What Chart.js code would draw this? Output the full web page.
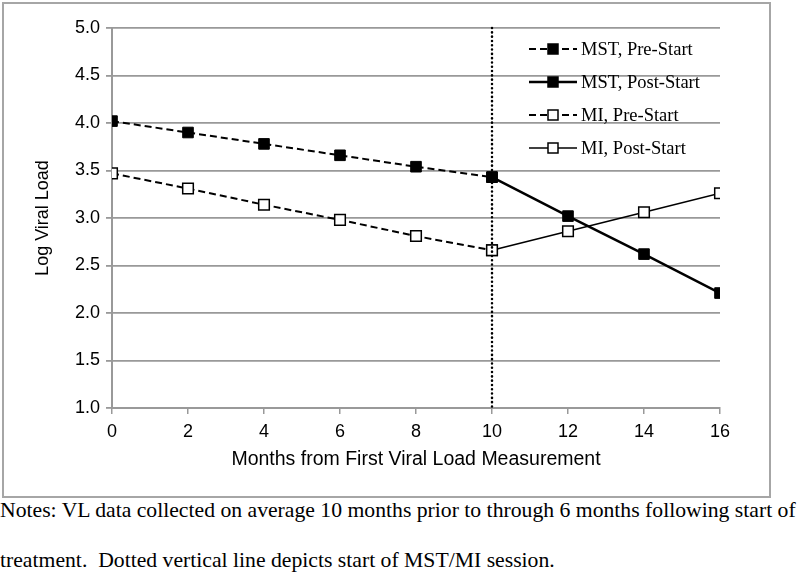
<!DOCTYPE html>
<html>
<head>
<meta charset="utf-8">
<script src="https://cdn.jsdelivr.net/npm/chart.js@4"></script>
<style>
  body { margin: 0; background: #fff; width: 800px; height: 574px; overflow: hidden; }
  #box { position: absolute; left: 2px; top: 2px; width: 765px; height: 492px; border: 2px solid #a6a6a6; }
  .note { position: absolute; left: 0; font-family: "Liberation Serif", serif; font-size: 21.7px; white-space: nowrap; color: #000; }
</style>
</head>
<body>
<div id="box"><canvas id="myChart" width="765" height="492"></canvas></div>
<div class="note" style="top:498px">Notes: VL data collected on average 10 months prior to through 6 months following start of</div>
<div class="note" style="top:548px">treatment.&nbsp; Dotted vertical line depicts start of MST/MI session.</div>
<script>
// data
const monthsPre = [0, 2, 4, 6, 8, 10];
const monthsPost = [10, 12, 14, 16];
const mstPre = [4.02, 3.90, 3.78, 3.66, 3.54, 3.43];
const mstPost = [3.43, 3.02, 2.62, 2.21];
const miPre = [3.47, 3.31, 3.14, 2.98, 2.81, 2.66];
const miPost = [2.66, 2.86, 3.06, 3.26];
const startMonth = 10;

const toPoints = (xs, ys) => xs.map((x, i) => ({ x: x, y: ys[i] }));

const legendItems = [
  { label: "MST, Pre-Start", dash: [7, 4], width: 2, fill: "#000" },
  { label: "MST, Post-Start", dash: [], width: 2.5, fill: "#000" },
  { label: "MI, Pre-Start", dash: [7, 4], width: 2, fill: "#fff" },
  { label: "MI, Post-Start", dash: [], width: 1.5, fill: "#fff" },
];

// dotted line at start of session
const startLine = {
  id: "startLine",
  afterDatasetsDraw(chart) {
    const { ctx, chartArea, scales } = chart;
    const x = scales.x.getPixelForValue(startMonth);
    ctx.save();
    ctx.strokeStyle = "#000";
    ctx.lineWidth = 2.5;
    ctx.lineCap = "round";
    ctx.setLineDash([0.1, 4.2]);
    ctx.beginPath();
    ctx.moveTo(x, chartArea.top);
    ctx.lineTo(x, chartArea.bottom);
    ctx.stroke();
    ctx.restore();
  },
};

// legend drawn inside plot area
const innerLegend = {
  id: "innerLegend",
  afterDraw(chart) {
    const { ctx, chartArea } = chart;
    const x0 = chartArea.left + 417;
    const y0 = chartArea.top + 21;
    ctx.save();
    ctx.font = "18.5px 'Liberation Serif', serif";
    ctx.textBaseline = "middle";
    legendItems.forEach((it, i) => {
      const y = y0 + i * 33;
      ctx.strokeStyle = "#000";
      ctx.lineWidth = it.width;
      ctx.setLineDash(it.dash);
      ctx.beginPath();
      ctx.moveTo(x0, y);
      ctx.lineTo(x0 + 48, y);
      ctx.stroke();
      ctx.setLineDash([]);
      ctx.fillStyle = it.fill;
      ctx.lineWidth = 1.5;
      ctx.fillRect(x0 + 19, y - 5, 10, 10);
      ctx.strokeRect(x0 + 19, y - 5, 10, 10);
      ctx.fillStyle = "#000";
      ctx.fillText(it.label, x0 + 52, y + 1);
    });
    ctx.restore();
  },
};

const ctx = document.getElementById("myChart").getContext("2d");

const axisFont = { family: "'Liberation Sans', Arial", size: 18 };

new Chart(ctx, {
  type: "line",
  data: {
    datasets: [
      {
        label: "MST, Pre-Start",
        data: toPoints(monthsPre, mstPre),
        borderColor: "#000",
        borderWidth: 2,
        borderDash: [7, 4],
        pointStyle: "rect",
        pointRadius: 7.5,
        pointBackgroundColor: "#000",
        pointBorderColor: "#000",
        pointBorderWidth: 1,
      },
      {
        label: "MI, Pre-Start",
        data: toPoints(monthsPre, miPre),
        borderColor: "#000",
        borderWidth: 2,
        borderDash: [7, 4],
        pointStyle: "rect",
        pointRadius: 7.5,
        pointBackgroundColor: "#fff",
        pointBorderColor: "#000",
        pointBorderWidth: 1.5,
      },
      {
        label: "MST, Post-Start",
        data: toPoints(monthsPost, mstPost),
        borderColor: "#000",
        borderWidth: 2.5,
        pointStyle: "rect",
        pointRadius: 7.5,
        pointBackgroundColor: "#000",
        pointBorderColor: "#000",
        pointBorderWidth: 1,
      },
      {
        label: "MI, Post-Start",
        data: toPoints(monthsPost, miPost),
        borderColor: "#000",
        borderWidth: 1.5,
        pointStyle: "rect",
        pointRadius: 7.5,
        pointBackgroundColor: "#fff",
        pointBorderColor: "#000",
        pointBorderWidth: 1.5,
      },
    ],
  },
  options: {
    responsive: false,
    animation: false,
    layout: { padding: { top: 24, right: 49, left: 0, bottom: 0 } },
    plugins: { legend: { display: false }, tooltip: { enabled: false } },
    elements: { line: { tension: 0 } },
    scales: {
      x: {
        type: "linear",
        min: 0,
        max: 16,
        afterFit: (s) => { s.height = 88; },
        border: { color: "#999", width: 2 },
        grid: { drawOnChartArea: false, drawTicks: true, tickLength: 6, color: "#999", lineWidth: 1.5 },
        ticks: { stepSize: 2, color: "#000", padding: 7, font: axisFont },
        title: {
          display: true,
          text: "Months from First Viral Load Measurement",
          color: "#000",
          font: { family: "'Liberation Sans', Arial", size: 19.5 },
          padding: { top: 0, bottom: 25 },
        },
      },
      y: {
        min: 1,
        max: 5,
        afterFit: (s) => { s.width = 108; },
        border: { color: "#999", width: 2 },
        grid: { color: "#999", lineWidth: 1.8, tickLength: 6 },
        ticks: {
          stepSize: 0.5,
          color: "#000",
          padding: 6,
          font: axisFont,
          callback: (v) => v.toFixed(1),
        },
        title: {
          display: true,
          text: "Log Viral Load",
          color: "#000",
          font: { family: "'Liberation Sans', Arial", size: 18 },
          padding: { top: 28, bottom: 0 },
        },
      },
    },
  },
  plugins: [startLine, innerLegend],
});
</script>
</body>
</html>
